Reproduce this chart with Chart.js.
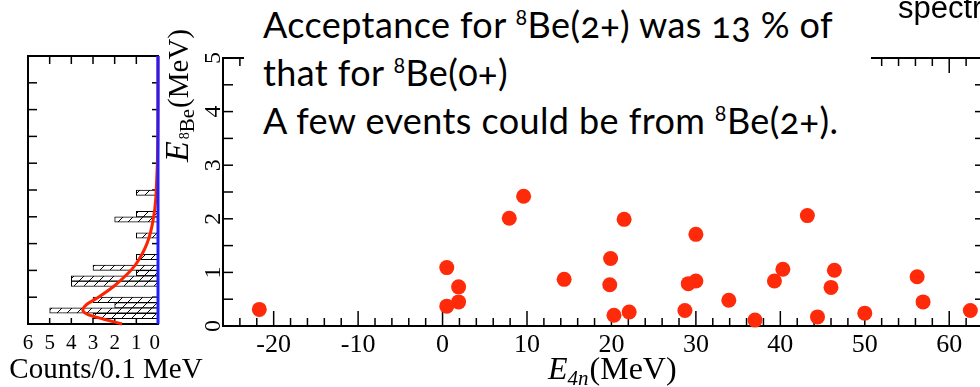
<!DOCTYPE html>
<html>
<head>
<meta charset="utf-8">
<script src="https://cdn.jsdelivr.net/npm/chart.js@4.4.1/dist/chart.umd.min.js"></script>
<style>
  html, body { margin: 0; padding: 0; width: 980px; height: 387px; overflow: hidden; background: #fff; }
  canvas { position: absolute; left: 0; top: 0; }
  #note {
    position: absolute; left: 244px; top: 0; width: 627px; height: 150px;
    background: #fff; box-sizing: border-box; padding: 0 0 0 19px;
    font-family: Lato, "Open Sans", sans-serif; font-size: 36px; line-height: 48px;
    letter-spacing: 0.4px; color: #000; white-space: nowrap; font-variant-numeric: oldstyle-nums;
  }
  #note sup { font-size: 0.6em; line-height: 0; vertical-align: 0.62em; }
  #spec {
    position: absolute; left: 898px; top: -8px; white-space: nowrap; line-height: 31px;
    font-family: "Liberation Sans", Arial, sans-serif; font-size: 31px; color: #000;
  }
</style>
</head>
<body>
<canvas id="mainChart" width="1000" height="387"></canvas>
<canvas id="histChart" width="240" height="387"></canvas>
<div id="spec">spectrum</div>
<div id="note">
  Acceptance for <sup>8</sup>Be(2+) was 13 % of<br>
  that for <sup>8</sup>Be(0+)<br>
  A few events could be from <sup>8</sup>Be(2+).
</div>
<script>
// scatter: E4n vs E8Be (MeV)
const e4n = [-21.7, 0.5, 0.5, 1.9, 1.9, 7.9, 9.6, 14.4, 19.9, 19.8, 20.3, 21.5, 22.1, 28.7, 29.1,
             30.0, 30.0, 33.9, 37.0, 39.3, 40.3, 43.2, 44.4, 46.0, 46.4, 50.0, 56.2, 56.9, 62.5];
const e8be = [0.31, 1.09, 0.37, 0.73, 0.45, 2.01, 2.42, 0.87, 1.26, 0.77, 0.20, 1.99, 0.26, 0.29, 0.79,
              0.84, 1.71, 0.48, 0.11, 0.84, 1.06, 2.06, 0.17, 0.72, 1.04, 0.24, 0.92, 0.45, 0.29];

const xTickLabels = ['-20', '-10', '0', '10', '20', '30', '40', '50', '60'];
const yTickLabels = ['0', '1', '2', '3', '4', '5'];

// projection histogram (0.1 MeV bins)
const binCenters = [0.15, 0.25, 0.35, 0.45, 0.75, 0.85, 0.95, 1.05, 1.25, 1.65, 1.95, 2.05, 2.45];
const binCounts = [3, 5, 2, 3, 4, 4, 1, 3, 1, 1, 2, 1, 1];

// fitted curve in the histogram
const fitE = [0.0, 0.09, 0.17, 0.26, 0.36, 0.5, 0.7, 0.9, 1.1, 1.3, 1.5, 1.7, 2.0, 2.3, 2.7, 3.0, 3.5, 4.2, 5.0];
const fitCounts = [1.66, 2.5, 3.2, 3.47, 3.3, 2.75, 2.05, 1.5, 1.05, 0.74, 0.51, 0.35, 0.2, 0.11, 0.06, 0.03, 0.01, 0.0, 0.0];

const countTickLabels = ['6', '5', '4', '3', '2', '1', '0'];

const serif = '"Liberation Serif", "Times New Roman", serif';

function drawTick(ctx, x1, y1, x2, y2) {
    ctx.beginPath();
    ctx.moveTo(x1, y1);
    ctx.lineTo(x2, y2);
    ctx.stroke();
}

const mainFrame = {
    id: 'mainFrame',
    beforeDatasetsDraw(chart) {
        const ctx = chart.ctx;
        const a = chart.chartArea;
        const xs = chart.scales.x, ys = chart.scales.y;
        ctx.save();
        ctx.strokeStyle = '#000';
        ctx.lineWidth = 2;
        ctx.strokeRect(a.left, a.top, a.right - a.left, a.bottom - a.top);
        ctx.lineWidth = 1.5;
        // x ticks every 2, major every 10
        for (let v = -26; v <= 64; v += 2) {
            const px = xs.getPixelForValue(v);
            const len = v % 10 === 0 ? 15 : 8;
            drawTick(ctx, px, a.bottom, px, a.bottom - len);
            drawTick(ctx, px, a.top, px, a.top + len);
        }
        // y ticks every 0.5
        for (let v = 0.5; v < 5; v += 0.5) {
            const py = ys.getPixelForValue(v);
            drawTick(ctx, a.left, py, a.left + 10, py);
            drawTick(ctx, a.right, py, a.right - 8, py);
        }
        // x tick labels
        ctx.fillStyle = '#000';
        ctx.font = '26px ' + serif;
        ctx.textAlign = 'center';
        ctx.textBaseline = 'alphabetic';
        xTickLabels.forEach(function (t) {
            ctx.fillText(t, xs.getPixelForValue(Number(t)), a.bottom + 26);
        });
        // y tick labels, rotated
        ctx.font = '24px ' + serif;
        yTickLabels.forEach(function (t) {
            ctx.save();
            ctx.translate(220, ys.getPixelForValue(Number(t)));
            ctx.rotate(-Math.PI / 2);
            ctx.fillText(t, 0, 0);
            ctx.restore();
        });
        // y title: E_8Be(MeV)
        ctx.save();
        ctx.translate(188, 162);
        ctx.rotate(-Math.PI / 2);
        ctx.textAlign = 'left';
        let x = 0;
        ctx.font = 'italic 34px ' + serif;
        ctx.fillText('E', x, 0);
        x += ctx.measureText('E').width + 2;
        ctx.font = '14px ' + serif;
        ctx.fillText('8', x, 1);
        x += ctx.measureText('8').width;
        ctx.font = '21px ' + serif;
        ctx.fillText('Be', x, 6);
        x += ctx.measureText('Be').width + 1;
        ctx.font = '29px ' + serif;
        ctx.fillText('(MeV)', x, 0);
        ctx.restore();
        // x title: E_4n(MeV)
        x = 548;
        ctx.textAlign = 'left';
        ctx.font = 'italic 32px ' + serif;
        ctx.fillText('E', x, 379);
        x += ctx.measureText('E').width;
        ctx.font = 'italic 21px ' + serif;
        ctx.fillText('4n', x, 385);
        x += ctx.measureText('4n').width + 1;
        ctx.font = '32px ' + serif;
        ctx.fillText('(MeV)', x, 379);
        ctx.restore();
    }
};

new Chart(document.getElementById('mainChart').getContext('2d'), {
    type: 'scatter',
    data: {
        datasets: [{
            data: e4n.map((v, i) => ({ x: v, y: e8be[i] })),
            backgroundColor: '#ff2a0a',
            borderWidth: 0,
            pointRadius: 7.5,
            pointHoverRadius: 7.5,
            clip: false
        }]
    },
    options: {
        responsive: false,
        animation: false,
        layout: { padding: { left: 223, right: 17, top: 58, bottom: 61 } },
        scales: {
            x: { type: 'linear', min: -26, max: 64, display: false },
            y: { type: 'linear', min: 0, max: 5, display: false }
        },
        plugins: { legend: { display: false }, tooltip: { enabled: false } }
    },
    plugins: [mainFrame]
});

// hatch pattern for the histogram bars
function makeHatch() {
    const c = document.createElement('canvas');
    c.width = 10; c.height = 10;
    const g = c.getContext('2d');
    g.fillStyle = '#fff';
    g.fillRect(0, 0, 10, 10);
    g.strokeStyle = '#000';
    g.lineWidth = 1;
    g.beginPath();
    g.moveTo(0, 10); g.lineTo(10, 0);
    g.moveTo(-5, 5); g.lineTo(5, -5);
    g.moveTo(5, 15); g.lineTo(15, 5);
    g.stroke();
    return g.createPattern(c, 'repeat');
}

const histFrame = {
    id: 'histFrame',
    beforeDatasetsDraw(chart) {
        const ctx = chart.ctx;
        const a = chart.chartArea;
        const xs = chart.scales.x, ys = chart.scales.y;
        ctx.save();
        ctx.strokeStyle = '#000';
        ctx.lineWidth = 2;
        ctx.strokeRect(a.left, a.top, a.right - a.left, a.bottom - a.top);
        ctx.lineWidth = 1.5;
        for (let v = 1; v <= 5; v++) {
            const px = xs.getPixelForValue(v);
            drawTick(ctx, px, a.bottom, px, a.bottom - 6);
            drawTick(ctx, px, a.top, px, a.top + 8);
        }
        for (let v = 0.5; v < 5; v += 0.5) {
            const py = ys.getPixelForValue(v);
            drawTick(ctx, a.left, py, a.left + 9, py);
            drawTick(ctx, a.right, py, a.right - 6, py);
        }
        ctx.fillStyle = '#000';
        ctx.font = '21px ' + serif;
        ctx.textBaseline = 'alphabetic';
        countTickLabels.forEach(function (t) {
            const px = xs.getPixelForValue(Number(t));
            if (t === '0') {
                ctx.textAlign = 'right';
                ctx.fillText(t, px + 2, a.bottom + 25);
            } else {
                ctx.textAlign = 'center';
                ctx.fillText(t, px, a.bottom + 25);
            }
        });
        ctx.textAlign = 'center';
        ctx.font = '29px ' + serif;
        ctx.fillText('Counts/0.1 MeV', 106, 378);
        ctx.restore();
    }
};

new Chart(document.getElementById('histChart').getContext('2d'), {
    type: 'bar',
    data: {
        datasets: [{
            type: 'line',
            data: fitE.map((e, i) => ({ x: fitCounts[i], y: e })),
            borderColor: '#ff2200',
            borderWidth: 3,
            pointRadius: 0,
            cubicInterpolationMode: 'monotone',
            clip: false,
            order: 1
        }, {
            type: 'line',
            data: [{ x: 0, y: 0 }, { x: 0, y: 5 }],
            borderColor: '#1f1fff',
            borderWidth: 3,
            pointRadius: 0,
            clip: false,
            order: 0
        }, {
            type: 'bar',
            data: binCenters.map((e, i) => ({ x: binCounts[i], y: e })),
            backgroundColor: makeHatch(),
            borderColor: '#000',
            borderWidth: 1,
            barPercentage: 1,
            categoryPercentage: 1,
            order: 2
        }]
    },
    options: {
        indexAxis: 'y',
        responsive: false,
        animation: false,
        layout: { padding: { left: 28, right: 82, top: 56, bottom: 63 } },
        scales: {
            x: { type: 'linear', min: 0, max: 6, reverse: true, offset: false, display: false },
            y: { type: 'linear', min: 0, max: 5, offset: false, display: false }
        },
        plugins: { legend: { display: false }, tooltip: { enabled: false } }
    },
    plugins: [histFrame]
});
</script>
</body>
</html>
